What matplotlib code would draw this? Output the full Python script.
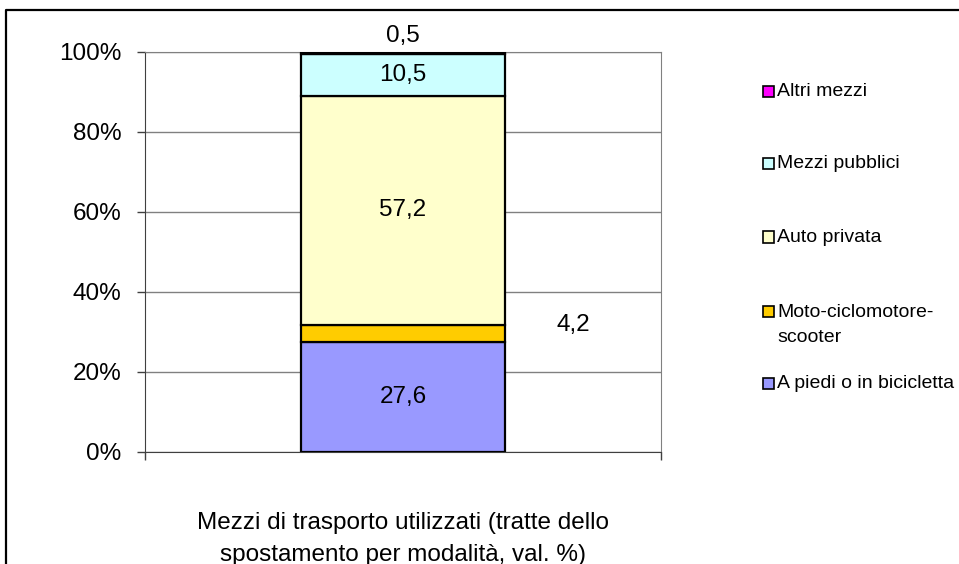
import numpy as np
import matplotlib.pyplot as plt
from matplotlib.patches import Rectangle
from matplotlib.lines import Line2D
from matplotlib.ticker import PercentFormatter

plt.rcParams['font.family'] = ['Liberation Sans', 'DejaVu Sans']

# data (bottom to top)
categories = ['A piedi o in bicicletta', 'Moto-ciclomotore-\nscooter', 'Auto privata',
              'Mezzi pubblici', 'Altri mezzi']
values = [27.6, 4.2, 57.2, 10.5, 0.5]
colors = ['#9999FF', '#FFCC00', '#FFFFCC', '#CCFFFF', '#FF00FF']
label_pos = ['in', 'right', 'in', 'in', 'top']
xlabel = 'Mezzi di trasporto utilizzati (tratte dello\nspostamento per modalità, val. %)'

W, H = 959, 564
fig = plt.figure(figsize=(W / 100, H / 100), dpi=100)
ax = fig.add_axes([145 / W, 1 - 452 / H, 516 / W, 400 / H])

fs = 17.5
leg_fs = 14
bar_w = 0.395
shares = np.array(values) / 100.0
bottoms = np.concatenate([[0], np.cumsum(shares)[:-1]])

for i, (v, s, b) in enumerate(zip(values, shares, bottoms)):
    ax.bar(0, s, bottom=b, width=bar_w, color=colors[i], edgecolor='black',
           linewidth=1.6, zorder=3)
    txt = f'{v:.1f}'.replace('.', ',')
    if label_pos[i] == 'in':
        ax.text(0, b + s / 2, txt, ha='center', va='center', fontsize=fs, zorder=4)
    elif label_pos[i] == 'right':
        ax.text(bar_w / 2 + 0.1, b + s / 2 + 0.02, txt, ha='left', va='center',
                fontsize=fs, zorder=4)
    else:
        ax.text(0, b + s + 0.012, txt, ha='center', va='bottom', fontsize=fs, zorder=4)

ax.set_xlim(-0.5, 0.5)
ax.set_ylim(0, 1)
ax.set_yticks(np.arange(0, 1.01, 0.2))
ax.yaxis.set_major_formatter(PercentFormatter(1.0, decimals=0))
ax.set_xticks([-0.5, 0.5])
ax.set_xticklabels(['', ''])
ax.tick_params(axis='both', direction='out', length=6, width=1, color='#404040',
               labelsize=fs)
ax.tick_params(axis='y', pad=11)
ax.grid(axis='y', color='#808080', linewidth=1, zorder=0)
ax.set_axisbelow(True)
for side in ['top', 'right']:
    ax.spines[side].set_color('#808080')
ax.spines['left'].set_color('#404040')
ax.spines['bottom'].set_color('#404040')
ax.set_xlabel(xlabel, fontsize=fs, labelpad=34, linespacing=1.58)

# legend, drawn by hand (marker aligned with first text line)
leg_y = [383, 311, 237, 163, 91]
for i, lab in enumerate(categories):
    yy = 1 - leg_y[i] / H
    fig.add_artist(Rectangle((763 / W, yy - 5.5 / H), 11 / W, 11 / H,
                             facecolor=colors[i], edgecolor='black', linewidth=1.2,
                             transform=fig.transFigure))
    fig.text(777 / W, yy + 7.5 / H, lab, ha='left', va='top', fontsize=leg_fs,
             linespacing=1.65)

# outer frame (extends past right and bottom edges)
fig.add_artist(Line2D([6 / W, 6 / W, 1.01], [-0.01, 1 - 10 / H, 1 - 10 / H],
                      color='black', linewidth=1.6, transform=fig.transFigure))

fig.savefig('out.png', dpi=100)
